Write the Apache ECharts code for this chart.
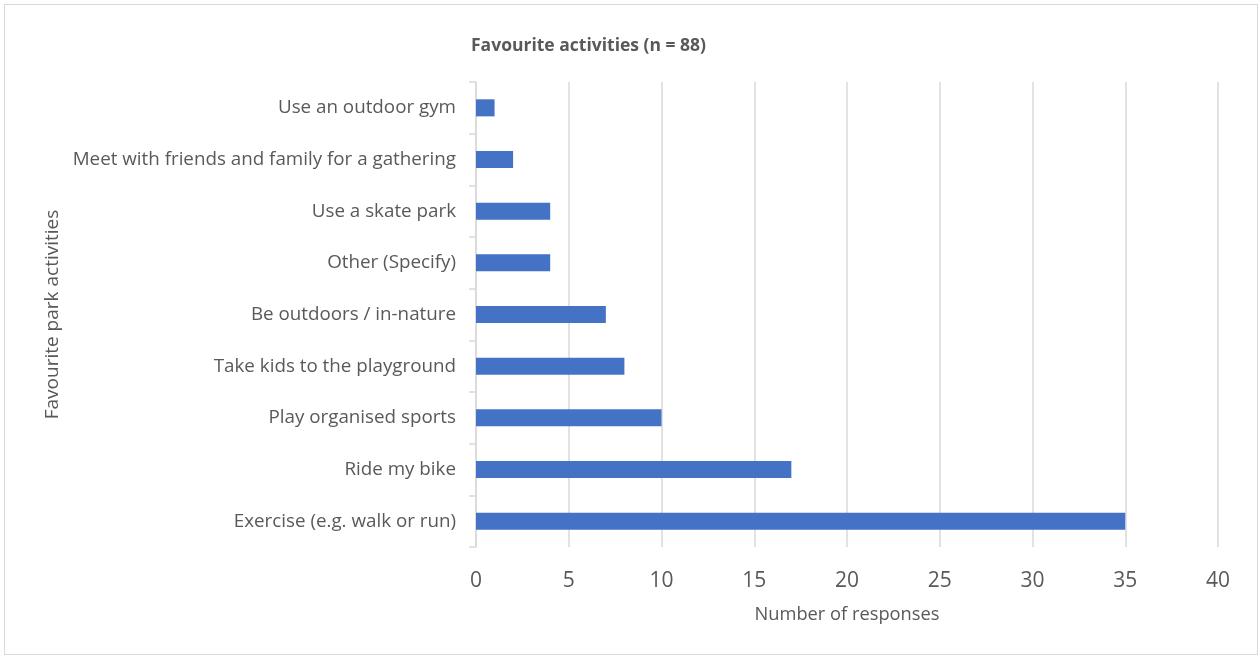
<!DOCTYPE html>
<html>
<head>
<meta charset="utf-8">
<script src="https://cdn.jsdelivr.net/npm/echarts@6/dist/echarts.min.js"></script>
<style>
  html, body { margin: 0; padding: 0; background: #fff; }
  #frame { position: absolute; left: 4px; top: 4px; width: 1254px; height: 651px; box-sizing: border-box; border: 1px solid #d9d9d9; }
  #chart { position: absolute; left: 0; top: 0; width: 1260px; height: 657px; }
</style>
</head>
<body>
<div id="frame"></div>
<div id="chart"></div>
<script>
// Favourite park activities, listed bottom to top
const categories = [
  'Exercise (e.g. walk or run)',
  'Ride my bike',
  'Play organised sports',
  'Take kids to the playground',
  'Be outdoors / in-nature',
  'Other (Specify)',
  'Use a skate park',
  'Meet with friends and family for a gathering',
  'Use an outdoor gym'
];
const responses = [35, 17, 10, 8, 7, 4, 4, 2, 1];
const xTicks = [0, 5, 10, 15, 20, 25, 30, 35, 40];

const font = '"Open Sans", "Noto Sans", sans-serif';
const chart = echarts.init(document.getElementById('chart'), null, { renderer: 'canvas' });
chart.setOption({
  animation: false,
  backgroundColor: 'transparent',
  title: {
    text: 'Favourite activities (n = 88)',
    left: 466,
    top: 32,
    textStyle: { fontFamily: font, fontSize: 17.5, fontWeight: 'bold', color: '#595959' }
  },
  grid: { left: 476, right: 42, top: 82, bottom: 110, containLabel: false },
  xAxis: {
    type: 'value',
    min: xTicks[0],
    max: xTicks[xTicks.length - 1],
    interval: 5,
    name: 'Number of responses',
    nameLocation: 'middle',
    nameGap: 59,
    nameTextStyle: { fontFamily: font, fontSize: 18.3, color: '#595959' },
    axisLine: { show: false },
    axisTick: { show: false },
    axisLabel: { fontFamily: font, fontSize: 21, color: '#595959', margin: 24 },
    splitLine: { show: true, lineStyle: { color: '#d9d9d9', width: 1.5 } }
  },
  yAxis: {
    type: 'category',
    data: categories,
    name: 'Favourite park activities',
    nameLocation: 'middle',
    nameGap: 414,
    nameRotate: 90,
    nameTextStyle: { fontFamily: font, fontSize: 19, color: '#595959' },
    axisLine: { show: true, lineStyle: { color: '#d9d9d9', width: 1.5 } },
    axisTick: { show: true, length: 7, lineStyle: { color: '#d9d9d9', width: 1.5 } },
    axisLabel: { fontFamily: font, fontSize: 18.8, color: '#595959', margin: 20 },
    splitLine: { show: false }
  },
  series: [{
    type: 'bar',
    data: responses,
    barWidth: '33%',
    itemStyle: { color: '#4472C4' }
  }]
});
</script>
</body>
</html>
